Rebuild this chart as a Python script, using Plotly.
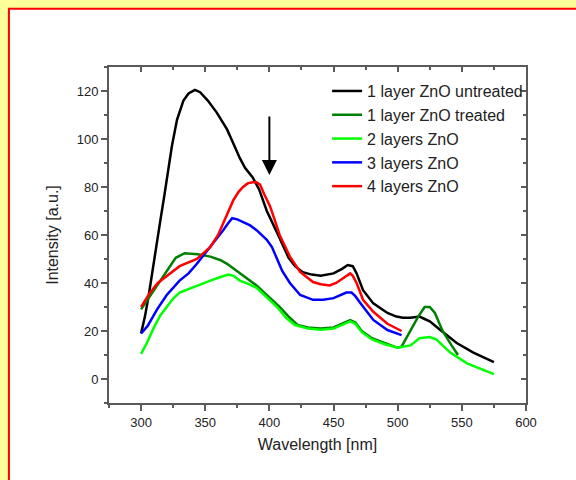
import plotly.graph_objects as go

# ---- data ----
names = ["1 layer ZnO untreated", "1 layer ZnO treated", "2 layers ZnO",
         "3 layers ZnO", "4 layers ZnO"]
colors = ["#000000", "#008000", "#00FF00", "#0000FF", "#FF0000"]

x_untreated = [300, 303, 306, 310, 315, 318, 320, 324, 328, 333, 337, 342, 346, 352, 359, 367, 372, 377, 381,
               387, 392, 398, 406, 415, 420, 426, 433, 440, 450, 457, 461, 465, 468, 473, 481, 492, 499, 504,
               510, 517, 521, 525, 533, 546, 559, 575]
y_untreated = [19, 26, 35, 48, 66, 76, 83, 97, 108, 116, 119, 120.5, 119.5, 116, 111, 104, 98, 92, 88,
               84, 79, 70, 61, 50.5, 47, 44.5, 43.5, 43, 44, 46, 47.5, 47, 44, 37, 31.5, 27.5, 26, 25.5,
               25.5, 26, 25, 24, 20.5, 15, 11, 7]

x_treated = [300, 305, 310, 317, 322, 327, 334, 344, 354, 362, 367, 377, 390, 400, 408, 415, 422, 430, 440,
             450, 457, 463, 467, 472, 480, 490, 500, 503, 510, 516, 521, 525, 529, 535, 542, 547]
y_treated = [29, 33, 37, 42.6, 47, 50.5, 52.4, 52, 51, 49.5, 48, 44, 39, 34, 30, 26, 22.5, 21.5, 21,
             21.5, 23, 24.5, 23.5, 20, 17, 15, 13, 13.5, 20, 26, 30, 30, 27.5, 20, 14, 10]

x_two = [300, 305, 310, 315, 320, 325, 330, 337, 344, 354, 362, 368, 372, 377, 384, 390, 398, 406, 413, 420,
         430, 440, 450, 457, 463, 467, 472, 480, 490, 500, 505, 510, 517, 525, 530, 533, 541, 554, 565, 575]
y_two = [10.5, 15.5, 21.5, 26.5, 30, 33.5, 36, 37.5, 39, 41, 42.5, 43.5, 43, 41, 39.5, 38, 34, 30, 25.5, 22.5,
         21, 20.5, 21, 22.5, 24, 23, 19.5, 16.5, 14.5, 13, 13.5, 14, 17, 17.5, 16.5, 15, 11, 6.5, 4, 2]

x_three = [300, 305, 312.5, 320, 330, 337, 343.5, 354, 364, 368, 371, 375, 379.5, 385, 390, 398, 402, 406, 410,
           416, 424, 434, 442, 450, 456, 460, 464, 467, 471, 476, 481, 492, 503]
y_three = [19, 22, 29, 35, 41, 44, 48, 55, 62, 65, 67, 66.5, 65.5, 64, 62, 58, 55, 50, 45,
           40, 35, 33, 33, 33.7, 35, 36, 36, 34.5, 31.6, 28, 24.6, 20.4, 18.3]

x_four = [300, 307, 313, 320, 330, 343.5, 354, 360, 364, 368, 372, 376, 379.5, 383, 387, 390, 392.7, 396, 400.5,
          404, 408, 412, 416, 424, 434, 440, 447, 452, 458, 463, 465, 468, 473, 481, 492, 503]
y_four = [30, 36, 40, 43, 47, 50, 55, 60, 65, 70, 74.6, 78, 80, 81.5, 82, 82, 81, 77, 72,
          66.5, 60, 55.5, 51, 44.6, 40.4, 39.5, 39, 40, 42, 44, 43, 40, 33, 28, 23, 20]

xs = [x_untreated, x_treated, x_two, x_three, x_four]
ys = [y_untreated, y_treated, y_two, y_three, y_four]

x_range = [275, 600]
y_range = [-10, 130]
x_ticks = [300, 350, 400, 450, 500, 550, 600]
y_ticks = [0, 20, 40, 60, 80, 100, 120]
arrow_x = 400
arrow_tail = 110
arrow_tip = 85

FONT = "Arial, Liberation Sans, sans-serif"

fig = go.Figure()
for n, c, x, y in zip(names, colors, xs, ys):
    fig.add_trace(go.Scatter(x=x, y=y, mode="lines", name=n,
                             line=dict(color=c, width=2.5)))

# empty trace to activate top/right (inside-tick) axes
fig.add_trace(go.Scatter(x=[], y=[], xaxis="x2", yaxis="y2", showlegend=False, hoverinfo="skip"))

axis_col = "#5a5a5a"
common = dict(showgrid=False, zeroline=False, tickcolor=axis_col, tickwidth=1.5)

fig.update_layout(
    width=576, height=480,
    paper_bgcolor="#FFFF99", plot_bgcolor="white",
    margin=dict(l=109, r=50, t=67, b=77),
    font=dict(family=FONT, color="#222222"),
    xaxis=dict(range=x_range, tickvals=x_ticks,
               ticks="outside", ticklen=6, showline=True, mirror=True,
               linecolor=axis_col, linewidth=2,
               tickfont=dict(size=13),
               minor=dict(ticks="outside", ticklen=3, dtick=25, tick0=275,
                          tickcolor=axis_col, tickwidth=1.5),
               title=dict(text="Wavelength [nm]", font=dict(size=16), standoff=10),
               **common),
    yaxis=dict(range=y_range, tickvals=y_ticks,
               ticks="outside", ticklen=6, showline=True, mirror=True,
               linecolor=axis_col, linewidth=2,
               tickfont=dict(size=13),
               minor=dict(ticks="outside", ticklen=3, dtick=10, tick0=0,
                          tickcolor=axis_col, tickwidth=1.5),
               title=dict(text="Intensity [a.u.]", font=dict(size=16), standoff=14),
               **common),
    xaxis2=dict(range=x_range, overlaying="x", side="top", anchor="y2",
                tickvals=x_ticks, ticks="inside", ticklen=5,
                showticklabels=False, showline=False,
                minor=dict(ticks="inside", ticklen=3, dtick=25, tick0=275,
                           tickcolor=axis_col, tickwidth=1.5),
                **common),
    yaxis2=dict(range=y_range, overlaying="y", side="right", anchor="x2",
                tickvals=y_ticks, ticks="inside", ticklen=5,
                showticklabels=False, showline=False,
                minor=dict(ticks="inside", ticklen=3, dtick=10, tick0=0,
                           tickcolor=axis_col, tickwidth=1.5),
                **common),
    legend=dict(x=0.523, y=0.979, xanchor="left", yanchor="top",
                bgcolor="rgba(0,0,0,0)", font=dict(size=16, color="#222222"),
                tracegroupgap=0, itemwidth=30),
    showlegend=True,
)

# outer white frame with red border
fig.add_shape(type="rect", xref="paper", yref="paper",
              x0=-0.24, x1=1.2, y0=-0.3, y1=1.173,
              line=dict(color="#FF0000", width=2), fillcolor="white", layer="below")

# arrow
fig.add_annotation(x=arrow_x, y=arrow_tip, ax=arrow_x, ay=arrow_tail, axref="x", ayref="y",
                   xref="x", yref="y", text="", showarrow=True, arrowhead=2,
                   arrowwidth=2, arrowsize=1.5, arrowcolor="#000000")

fig.write_html("out.html")
